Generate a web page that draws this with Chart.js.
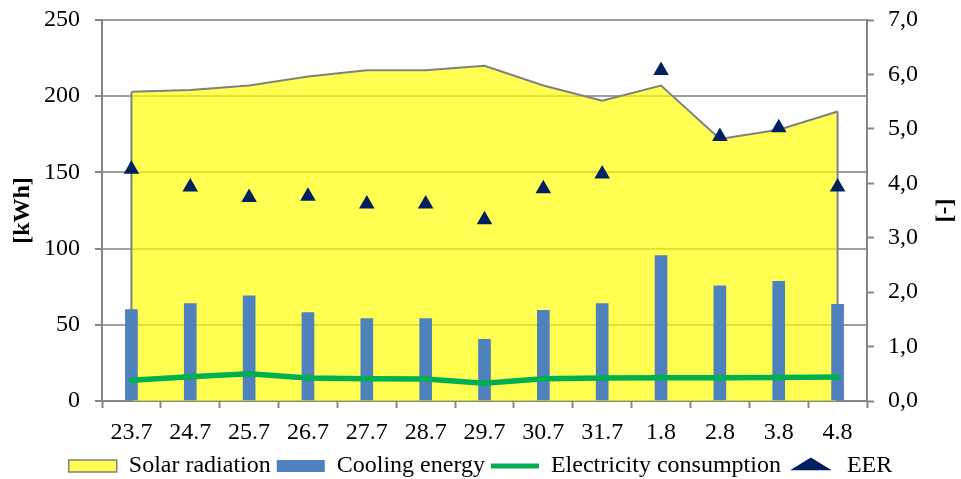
<!DOCTYPE html>
<html>
<head>
<meta charset="utf-8">
<script src="https://cdn.jsdelivr.net/npm/chart.js@4/dist/chart.umd.min.js"></script>
<style>
html,body{margin:0;padding:0;background:#fff;}
#wrap{width:961px;height:479px;position:relative;overflow:hidden;}
</style>
</head>
<body>
<div id="wrap"><canvas id="c" width="961" height="479"></canvas></div>
<script>
const categories = ['23.7','24.7','25.7','26.7','27.7','28.7','29.7','30.7','31.7','1.8','2.8','3.8','4.8'];
const solarRadiation = [203,204,207,213,217,217,220,207,197,207,172,178,190];
const coolingEnergy = [60,64,69,58,54,54,40.5,59.5,64,95.5,75.5,78.5,63.5];
const electricityConsumption = [13.6,15.9,17.9,15.1,14.6,14.4,11.6,14.6,15.1,15.3,15.3,15.4,15.7];
const eer = [4.26,3.93,3.74,3.76,3.62,3.62,3.33,3.9,4.17,6.07,4.86,5.02,3.93];
const leftTicks = {min:0, max:250, step:50};
const rightTicks = {min:0, max:7, step:1};

function makePattern(){
  const c = document.createElement('canvas'); c.width = 4; c.height = 4;
  const x = c.getContext('2d');
  x.fillStyle = 'rgba(255,255,0,0.7)'; x.fillRect(0,0,4,4);
  x.clearRect(0,0,1,1); x.clearRect(2,2,1,1);
  x.fillStyle = 'rgba(255,255,0,0.5)'; x.fillRect(0,0,1,1); x.fillRect(2,2,1,1);
  return x.createPattern(c,'repeat');
}
const solarFill = makePattern();
const FONT = "'Liberation Serif', 'Times New Roman', serif";
const AXIS = '#868686';

const areaEdges = {
  id:'areaEdges',
  afterDatasetDraw(chart, args){
    if (args.index !== 0) return;
    const pts = args.meta.data;
    if (!pts.length) return;
    const yb = chart.scales.y.getPixelForValue(0);
    const ctx = chart.ctx;
    ctx.save();
    ctx.strokeStyle = '#808080'; ctx.lineWidth = 2;
    ctx.beginPath();
    ctx.moveTo(pts[0].x, pts[0].y); ctx.lineTo(pts[0].x, yb);
    const l = pts[pts.length-1];
    ctx.moveTo(l.x, l.y); ctx.lineTo(l.x, yb);
    ctx.stroke();
    ctx.restore();
  }
};

new Chart(document.getElementById('c'), {
  data: {
    labels: categories,
    datasets: [
      {type:'line', label:'Solar radiation', data: solarRadiation, yAxisID:'y', order:3,
       fill:'origin', backgroundColor: solarFill, borderColor:'#808080', borderWidth:2,
       pointRadius:0, tension:0},
      {type:'bar', label:'Cooling energy', data: coolingEnergy, yAxisID:'y', order:2,
       backgroundColor:'#4F81BD', borderWidth:0, barThickness:12},
      {type:'line', label:'Electricity consumption', data: electricityConsumption, yAxisID:'y', order:1,
       borderColor:'#00B050', backgroundColor:'#00B050', borderWidth:5.5, pointRadius:0, tension:0, fill:false,
       borderCapStyle:'round', borderJoinStyle:'round'},
      {type:'line', label:'EER', data: eer, yAxisID:'y1', order:0, showLine:false,
       pointStyle:'triangle', pointRadius:9, pointBackgroundColor:'#002060', pointBorderColor:'#002060',
       pointBorderWidth:0, backgroundColor:'#002060', borderColor:'#002060'}
    ]
  },
  options: {
    responsive:false, animation:false, devicePixelRatio:1,
    layout:{padding:{top:20, left:0, right:0, bottom:-9}},
    plugins:{
      tooltip:{enabled:false},
      legend:{
        position:'bottom', align:'center',
        labels:{
          usePointStyle:true, pointStyleWidth:48, boxHeight:12, padding:6,
          color:'#000', font:{family:FONT, size:24},
          generateLabels: () => [
            {text:'Solar radiation', fillStyle: solarFill, strokeStyle:'#808080', lineWidth:1.5, pointStyle:'rect', datasetIndex:0, hidden:false, fontColor:'#000'},
            {text:'Cooling energy', fillStyle:'#4F81BD', strokeStyle:'#4F81BD', lineWidth:0, pointStyle:'rect', datasetIndex:1, hidden:false, fontColor:'#000'},
            {text:'Electricity consumption', fillStyle:'#00B050', strokeStyle:'#00B050', lineWidth:5, pointStyle:'line', datasetIndex:2, hidden:false, fontColor:'#000'},
            {text:'EER', fillStyle:'#002060', strokeStyle:'#002060', lineWidth:0, pointStyle:'triangle', datasetIndex:3, hidden:false, fontColor:'#000'}
          ]
        }
      }
    },
    scales:{
      x:{
        type:'category', offset:true,
        grid:{display:true, drawOnChartArea:false, drawTicks:true, tickLength:7, color:AXIS, tickWidth:2, offset:true},
        border:{display:true, color:AXIS, width:2},
        ticks:{color:'#000', font:{family:FONT, size:24}, padding:10, maxRotation:0, autoSkip:false},
        afterFit(s){ s.height = 47; }
      },
      y:{
        position:'left', min:leftTicks.min, max:leftTicks.max,
        ticks:{stepSize:leftTicks.step, color:'#000', font:{family:FONT, size:24}, padding:15},
        grid:{color:'#A0A0A0', lineWidth:2, borderDash:[8,5], tickLength:7, tickColor:AXIS, tickBorderDash:[], drawTicks:true},
        border:{display:true, color:AXIS, width:2},
        title:{display:true, text:'[kWh]', color:'#000', font:{family:FONT, size:24, weight:'bold'}, padding:{top:8, bottom:0}},
        afterFit(s){ s.width = 102; s.paddingTop = 0; s.paddingBottom = 0; }
      },
      y1:{
        position:'right', min:rightTicks.min, max:rightTicks.max,
        ticks:{stepSize:rightTicks.step, color:'#000', font:{family:FONT, size:24}, padding:14,
          callback:(v)=> Number(v).toFixed(1).replace('.', ',')},
        grid:{drawOnChartArea:false, tickLength:7, color:AXIS, tickWidth:2},
        border:{display:true, color:AXIS, width:2},
        title:{display:true, text:'[-]', color:'#000', font:{family:FONT, size:24, weight:'bold'}, padding:{top:1, bottom:0}},
        afterFit(s){ s.width = 94; s.paddingTop = 0; s.paddingBottom = 0; }
      }
    }
  },
  plugins:[areaEdges]
});
</script>
</body>
</html>
